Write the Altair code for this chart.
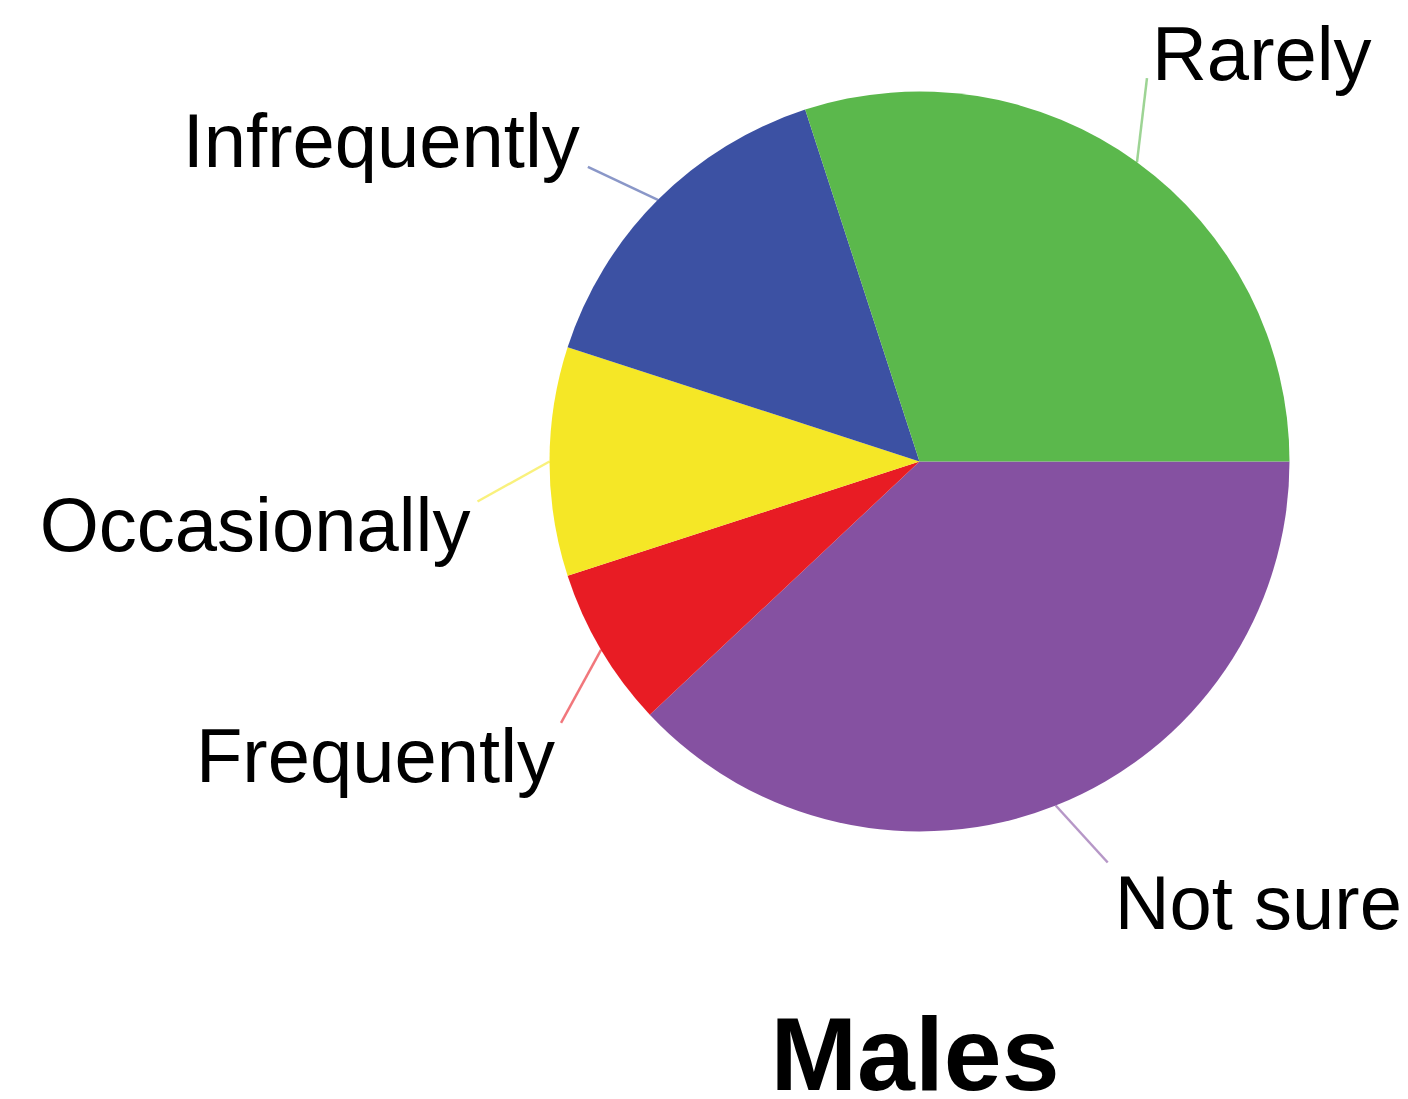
import math

import altair as alt
import pandas as pd

# Survey answers, listed clockwise starting at 3 o'clock
categories = ["Not sure", "Frequently", "Occasionally", "Infrequently", "Rarely"]
shares = [38, 7, 10, 15, 30]
colors = ["#8551A1", "#E81C24", "#F5E726", "#3C51A3", "#5BB84C"]
title_text = "Males"

# Canvas and pie geometry (pixels)
W, H = 1408, 1099
CX, CY = 919.5, 461.5
R = 370
START = math.pi / 2  # Vega angles: 0 = 12 o'clock, clockwise

# Leader line vector from the rim (screen dx, dy) and text nudge from its end
LEADER = {
    "Not sure": (52, 57),
    "Frequently": (-40, 73),
    "Occasionally": (-72, 40),
    "Infrequently": (-70, -33),
    "Rarely": (10, -84),
}
TEXT_NUDGE = {
    "Not sure": (7, 66),
    "Frequently": (-6, 59),
    "Occasionally": (-7, 49),
    "Infrequently": (-8, 0),
    "Rarely": (5, 2),
}
ALIGN = {
    "Not sure": "left",
    "Frequently": "right",
    "Occasionally": "right",
    "Infrequently": "right",
    "Rarely": "left",
}

total = sum(shares)
rows = []
cum = 0
for i, (cat, val) in enumerate(zip(categories, shares)):
    mid = START + 2 * math.pi * (cum + val / 2) / total
    cum += val
    sx, sy = R * math.sin(mid), R * math.cos(mid)  # y grows upward
    lx, ly = LEADER[cat]
    ex, ey = sx + lx, sy - ly
    nx, ny = TEXT_NUDGE[cat]
    rows.append(
        dict(category=cat, value=val, order=i, sx=sx, sy=sy, ex=ex, ey=ey,
             tx=ex + nx, ty=ey - ny, align=ALIGN[cat])
    )
df = pd.DataFrame(rows)

# Pixel-offset scales centred on the pie
xs = alt.Scale(domain=[-CX, W - CX], nice=False, zero=False)
ys = alt.Scale(domain=[CY - H, CY], nice=False, zero=False)
cs = alt.Scale(domain=categories, range=colors)

FONT = "Liberation Sans"

pie = alt.Chart(df).mark_arc(outerRadius=R).encode(
    theta=alt.Theta("value:Q", stack=True,
                    scale=alt.Scale(range=[START, START + 2 * math.pi])),
    color=alt.Color("category:N", scale=cs, legend=None),
    order=alt.Order("order:Q"),
    x=alt.value(CX),
    y=alt.value(CY),
)

leaders = alt.Chart(df).mark_rule(strokeWidth=2.5, opacity=0.6).encode(
    x=alt.X("sx:Q", scale=xs, axis=None),
    y=alt.Y("sy:Q", scale=ys, axis=None),
    x2="ex:Q",
    y2="ey:Q",
    color=alt.Color("category:N", scale=cs, legend=None),
)


def label_layer(side):
    return alt.Chart(df).transform_filter(
        alt.datum.align == side
    ).mark_text(
        font=FONT, fontSize=76, color="black", align=side, baseline="alphabetic"
    ).encode(
        x=alt.X("tx:Q", scale=xs, axis=None),
        y=alt.Y("ty:Q", scale=ys, axis=None),
        text="category:N",
    )


title = alt.Chart(pd.DataFrame({"t": [title_text]})).mark_text(
    font=FONT, fontSize=104, fontWeight="bold", color="black",
    align="center", baseline="alphabetic"
).encode(
    x=alt.value(915),
    y=alt.value(1090),
    text="t:N",
)

chart = alt.layer(
    pie, leaders, label_layer("left"), label_layer("right"), title
).properties(
    width=W,
    height=H,
    autosize=alt.AutoSizeParams(type="none"),
    padding=0,
    background="white",
).configure_view(stroke=None)

chart.save("out.html", embed_options={"renderer": "svg", "actions": False})
